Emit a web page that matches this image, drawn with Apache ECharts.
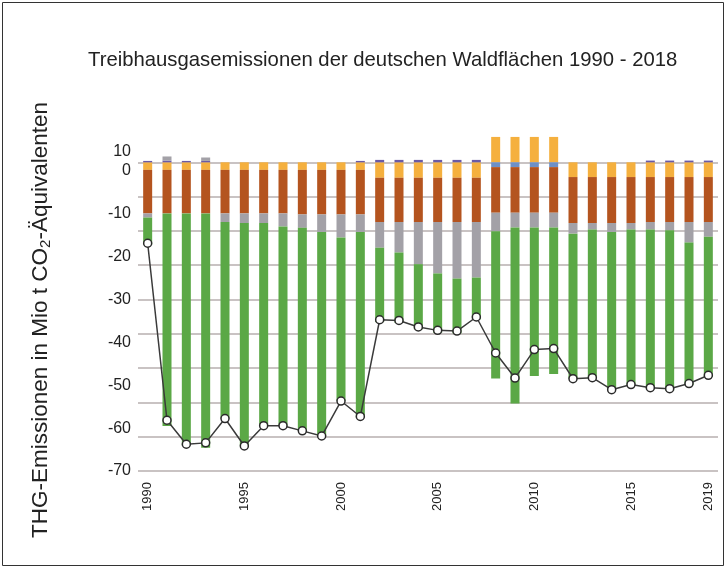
<!DOCTYPE html>
<html>
<head>
<meta charset="utf-8">
<title>Treibhausgasemissionen Wald</title>
<script src="https://cdn.jsdelivr.net/npm/echarts@6/dist/echarts.min.js"></script>
<style>
    html, body { margin: 0; padding: 0; background: #fff; }
    #chart { width: 726px; height: 568px; }
</style>
</head>
<body>
<div id="chart"></div>
<script>
// Jahre
var years = [];
for (var y = 1990; y <= 2019; y++) years.push(String(y));

// Werte in Mio t CO2-Äq.
var orgBoeden = [-2.2, -2.2, -2.2, -2.2, -2.2, -2.2, -2.2, -2.2, -2.2, -2.2, -2.2, -2.2,
    -4.5, -4.5, -4.5, -4.5, -4.5, -4.5, 7.4, 7.4, 7.4, 7.4,
    -4.3, -4.3, -4.3, -4.3, -4.3, -4.3, -4.3, -4.3];
var blau = [0, 0, 0, 0, 0, 0, 0, 0, 0, 0, 0, 0, 0, 0, 0, 0, 0, 0,
    -1.4, -1.4, -1.4, -1.4, 0, 0, 0, 0, 0, 0, 0, 0];
var lila = [0.4, 0.5, 0.4, 0.4, 0, 0, 0, 0, 0, 0, 0, 0.4,
    0.7, 0.7, 0.7, 0.7, 0.7, 0.7, 0, 0, 0, 0, 0, 0, 0, 0, 0.5, 0.5, 0.5, 0.5];
var mineral = [-12.7, -12.7, -12.7, -12.7, -12.7, -12.7, -12.7, -12.7, -13.0, -13.0, -13.0, -13.0,
    -12.9, -12.9, -12.9, -12.9, -12.9, -12.9, -13.3, -13.3, -13.3, -13.3,
    -13.4, -13.4, -13.4, -13.4, -13.1, -13.1, -13.1, -13.1];
var totholz = [-1.2, 1.2, 0, 1.0, -2.5, -2.8, -2.8, -3.8, -3.9, -5.1, -6.7, -5.1,
    -7.5, -8.9, -12.3, -15.0, -16.5, -16.2, -5.4, -4.3, -4.3, -4.3,
    -3.1, -1.9, -2.6, -1.9, -2.2, -2.4, -6.0, -4.3];
var biomasse = [-7.9, -62.0, -67.7, -68.3, -57.3, -65.0, -59.1, -58.1, -59.2, -59.5, -47.7, -54.2,
    -21.7, -20.5, -19.0, -17.3, -16.0, -12.2, -42.9, -51.3, -43.3, -42.7,
    -42.3, -43.2, -46.0, -45.2, -46.6, -46.7, -41.6, -40.9];
var summe = [-23.6, -75.2, -82.2, -81.8, -74.7, -82.7, -76.8, -76.8, -78.3, -79.8, -69.6, -74.1,
    -45.9, -46.1, -48.0, -49.0, -49.2, -45.1, -55.6, -62.9, -54.6, -54.3,
    -63.1, -62.8, -66.3, -64.8, -65.7, -66.0, -64.5, -62.1];

var myChart = echarts.init(document.getElementById('chart'));

function balken(name, data, color) {
    return {
        name: name,
        type: 'bar',
        stack: 'wald',
        yAxisIndex: 0,
        barWidth: 9,
        data: data,
        itemStyle: { color: color },
        emphasis: { disabled: true }
    };
}

myChart.setOption({
    backgroundColor: '#fff',
    textStyle: { fontFamily: 'Liberation Sans, Arial, sans-serif' },
    animation: false,
    title: {
        text: 'Treibhausgasemissionen der deutschen Waldflächen 1990 - 2018',
        left: 88,
        top: 50,
        padding: 0,
        textStyle: { fontSize: 20.3, fontWeight: 'normal', color: '#222' }
    },
    grid: { left: 138, right: 8, top: 128, bottom: 97 },
    xAxis: {
        type: 'category',
        data: years,
        axisLine: { show: false },
        axisTick: { show: false },
        axisLabel: {
            rotate: 90,
            margin: 11,
            fontSize: 13,
            color: '#222',
            interval: function (i, v) { return Number(v) % 5 === 0 || v === '2019'; }
        }
    },
    yAxis: [
        {
            // Achse der Daten (nur Gitterlinien)
            type: 'value',
            min: -90,
            max: 10,
            interval: 10,
            axisLabel: { show: false },
            axisLine: { show: false },
            axisTick: { show: false },
            splitLine: { show: true, showMaxLine: false, lineStyle: { color: '#c9c3c3', width: 2 } }
        },
        {
            // Beschriftung wie im Original
            type: 'value',
            position: 'left',
            min: -70,
            max: 10,
            interval: 10,
            axisLine: { show: false },
            axisTick: { show: false },
            splitLine: { show: false },
            axisLabel: {
                margin: 7,
                fontSize: 16,
                color: '#222',
                showMaxLabel: true,
                showMinLabel: true,
                hideOverlap: false,
                formatter: function (v) { return v === 10 ? '{up|10}' : String(v); },
                rich: { up: { fontSize: 16, lineHeight: 16, color: '#222', padding: [48, 0, 0, 0] } }
            }
        }
    ],
    series: [
        balken('Organische Böden', orgBoeden, '#f5b03e'),
        balken('Sonstige', blau, '#6e90c6'),
        balken('Streu', lila, '#6a5ba6'),
        balken('Mineralböden', mineral, '#b4541f'),
        balken('Totholz', totholz, '#a3a1a7'),
        balken('Lebende Biomasse', biomasse, '#5ba846'),
        {
            name: 'Summe',
            type: 'line',
            yAxisIndex: 0,
            data: summe,
            symbol: 'circle',
            symbolSize: 8,
            z: 5,
            lineStyle: { color: '#3a3a3a', width: 1.5 },
            itemStyle: { color: '#fff', borderColor: '#2a2a2a', borderWidth: 1.5 }
        }
    ],
    graphic: [
        {
            type: 'rect',
            shape: { x: 2.5, y: 2.5, width: 721, height: 563 },
            style: { fill: null, stroke: '#333', lineWidth: 1 }
        },
        {
            type: 'text',
            x: 41,
            y: 320,
            rotation: Math.PI / 2,
            style: {
                text: 'THG-Emissionen in Mio t CO{sub|2}-Äquivalenten',
                fontSize: 22.5,
                fill: '#222',
                fontFamily: 'Liberation Sans, Arial, sans-serif',
                align: 'center',
                verticalAlign: 'middle',
                rich: {
                    sub: { fontSize: 15, padding: [10, 0, 0, 0], fill: '#222' }
                }
            }
        }
    ]
});
</script>
</body>
</html>
